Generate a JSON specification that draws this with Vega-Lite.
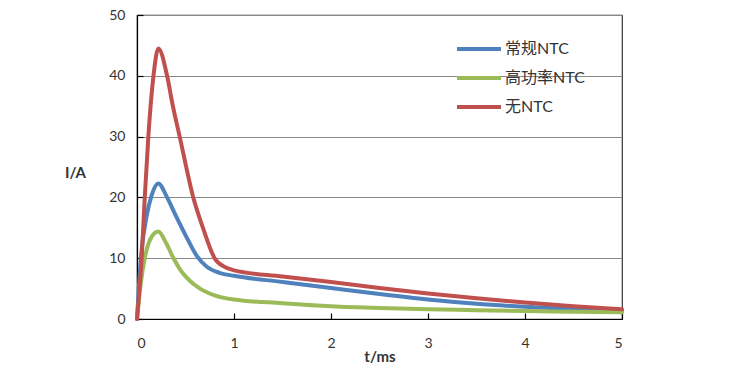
{
  "$schema": "https://vega.github.io/schema/vega-lite/v6.json",
  "width": 485,
  "height": 304,
  "autosize": {"type": "none"},
  "padding": {"left": 137, "top": 15, "right": 117, "bottom": 62},
  "background": "white",
  "config": {
    "font": "Lato, 'Noto Sans CJK SC'",
    "view": {"stroke": "#333333", "strokeWidth": 1.2}
  },
  "data": {
    "values": [
      {"s": "常规NTC", "t": 0, "i": 0},
      {"s": "常规NTC", "t": 0.04, "i": 10},
      {"s": "常规NTC", "t": 0.1, "i": 17},
      {"s": "常规NTC", "t": 0.15, "i": 20.3},
      {"s": "常规NTC", "t": 0.22, "i": 22.3},
      {"s": "常规NTC", "t": 0.31, "i": 20},
      {"s": "常规NTC", "t": 0.4, "i": 17},
      {"s": "常规NTC", "t": 0.5, "i": 13.8},
      {"s": "常规NTC", "t": 0.62, "i": 10.3},
      {"s": "常规NTC", "t": 0.72, "i": 8.6},
      {"s": "常规NTC", "t": 0.85, "i": 7.6},
      {"s": "常规NTC", "t": 1.0, "i": 7.1},
      {"s": "常规NTC", "t": 1.5, "i": 6.1},
      {"s": "常规NTC", "t": 2.0, "i": 5.1},
      {"s": "常规NTC", "t": 2.5, "i": 4.1},
      {"s": "常规NTC", "t": 3.0, "i": 3.2},
      {"s": "常规NTC", "t": 3.5, "i": 2.5},
      {"s": "常规NTC", "t": 4.0, "i": 2.0},
      {"s": "常规NTC", "t": 4.5, "i": 1.6},
      {"s": "常规NTC", "t": 5.0, "i": 1.3},
      {"s": "高功率NTC", "t": 0, "i": 0},
      {"s": "高功率NTC", "t": 0.04, "i": 6},
      {"s": "高功率NTC", "t": 0.08, "i": 10},
      {"s": "高功率NTC", "t": 0.15, "i": 13.5},
      {"s": "高功率NTC", "t": 0.22, "i": 14.4},
      {"s": "高功率NTC", "t": 0.3, "i": 12.5},
      {"s": "高功率NTC", "t": 0.37, "i": 10.2},
      {"s": "高功率NTC", "t": 0.45, "i": 8},
      {"s": "高功率NTC", "t": 0.55, "i": 6.2},
      {"s": "高功率NTC", "t": 0.65, "i": 5.0},
      {"s": "高功率NTC", "t": 0.8, "i": 3.9},
      {"s": "高功率NTC", "t": 1.0, "i": 3.2},
      {"s": "高功率NTC", "t": 1.5, "i": 2.6},
      {"s": "高功率NTC", "t": 2.0, "i": 2.1},
      {"s": "高功率NTC", "t": 2.5, "i": 1.8},
      {"s": "高功率NTC", "t": 3.0, "i": 1.6},
      {"s": "高功率NTC", "t": 3.5, "i": 1.45},
      {"s": "高功率NTC", "t": 4.0, "i": 1.3},
      {"s": "高功率NTC", "t": 4.5, "i": 1.2},
      {"s": "高功率NTC", "t": 5.0, "i": 1.1},
      {"s": "无NTC", "t": 0, "i": 0},
      {"s": "无NTC", "t": 0.048, "i": 10},
      {"s": "无NTC", "t": 0.08, "i": 20},
      {"s": "无NTC", "t": 0.117, "i": 30},
      {"s": "无NTC", "t": 0.17, "i": 40},
      {"s": "无NTC", "t": 0.22, "i": 44.5},
      {"s": "无NTC", "t": 0.31, "i": 40},
      {"s": "无NTC", "t": 0.37, "i": 35},
      {"s": "无NTC", "t": 0.44, "i": 30},
      {"s": "无NTC", "t": 0.58, "i": 20},
      {"s": "无NTC", "t": 0.68, "i": 15},
      {"s": "无NTC", "t": 0.8, "i": 10},
      {"s": "无NTC", "t": 0.91, "i": 8.5},
      {"s": "无NTC", "t": 1.0, "i": 8.0},
      {"s": "无NTC", "t": 1.5, "i": 7.0},
      {"s": "无NTC", "t": 2.0, "i": 6.1},
      {"s": "无NTC", "t": 2.5, "i": 5.1},
      {"s": "无NTC", "t": 3.0, "i": 4.2},
      {"s": "无NTC", "t": 3.5, "i": 3.4},
      {"s": "无NTC", "t": 4.0, "i": 2.7},
      {"s": "无NTC", "t": 4.5, "i": 2.1},
      {"s": "无NTC", "t": 5.0, "i": 1.6}
    ]
  },
  "mark": {"type": "line", "interpolate": "monotone", "strokeWidth": 4, "strokeCap": "round", "strokeJoin": "round"},
  "encoding": {
    "x": {
      "field": "t", "type": "quantitative",
      "scale": {"domain": [0, 5], "nice": false},
      "axis": {
        "title": "t/ms", "values": [0, 1, 2, 3, 4, 5], "format": "d",
        "grid": false, "domainColor": "#000000", "domainWidth": 1.2,
        "tickColor": "#000000", "tickSize": -6, "tickWidth": 1.2,
        "labelFontSize": 14, "labelColor": "#333333", "labelPadding": 23,
        "titleFontSize": 15, "titleFontWeight": "bold", "titleColor": "#333333",
        "titleY": 37, "titleBaseline": "middle", "titlePadding": 0
      }
    },
    "y": {
      "field": "i", "type": "quantitative",
      "scale": {"domain": [0, 50], "nice": false},
      "axis": {
        "title": "I/A", "values": [0, 10, 20, 30, 40, 50],
        "grid": true, "gridColor": "#888888", "gridWidth": 1,
        "domainColor": "#000000", "domainWidth": 1.2,
        "tickColor": "#000000", "tickSize": -6, "tickWidth": 1.2,
        "labelFontSize": 14, "labelColor": "#333333", "labelPadding": 18,
        "titleFontSize": 15, "titleFontWeight": "bold", "titleColor": "#333333",
        "titleAngle": 0, "titleX": -62, "titleY": 157, "titleAlign": "center", "titleBaseline": "middle"
      }
    },
    "color": {
      "field": "s", "type": "nominal",
      "scale": {"domain": ["常规NTC", "高功率NTC", "无NTC"], "range": ["#4F81BD", "#9BBB59", "#C0504D"]},
      "legend": {
        "title": null, "orient": "none", "legendX": 329, "legendY": 21,
        "symbolType": "M-2,0H2", "symbolSize": 484, "symbolStrokeWidth": 4,
        "symbolFillColor": "transparent",
        "labelFontSize": 16, "labelColor": "#333333", "labelOffset": 13,
        "rowPadding": 8, "padding": 0
      }
    }
  }
}
